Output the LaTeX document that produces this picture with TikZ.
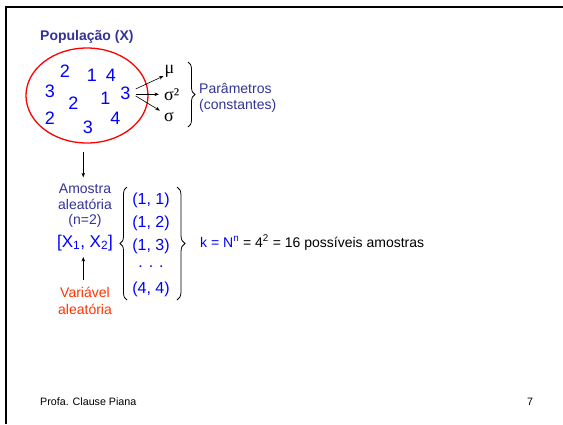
\documentclass[tikz,border=0pt]{standalone}
\usepackage{fontspec}
\setmainfont{Liberation Sans}
\newfontfamily\greekfont{Liberation Serif}
\usetikzlibrary{arrows.meta,decorations.pathreplacing,shapes.geometric}
\definecolor{titleblue}{HTML}{333399}
\definecolor{numblue}{HTML}{0000FF}
\definecolor{varred}{HTML}{FF3300}
\definecolor{popred}{HTML}{FF0000}
\begin{document}
\begin{tikzpicture}[x=1pt,y=-1pt,
  num/.style={font=\fontsize{18}{20}\selectfont, text=numblue, inner sep=0pt, anchor=base},
  lbl/.style={font=\fontsize{14}{16}\selectfont, inner sep=0pt, anchor=base},
  greek/.style={font=\greekfont\fontsize{18}{20}\selectfont, inner sep=0pt, anchor=base},
  pairtxt/.style={font=\fontsize{16}{18}\selectfont, text=numblue, inner sep=0pt, anchor=base},
  arr/.style={-{Stealth[length=4.5pt,width=3.5pt]}, line width=0.6pt},
  bracestyle/.style={decorate, line width=0.8pt},
  foot/.style={font=\fontsize{10.7}{12}\selectfont, inner sep=0pt},
]
\useasboundingbox (0,0) rectangle (563,424);
% frame
\draw[line width=2.2pt, black] (6.2,424) -- (6.2,7.2) -- (563,7.2);

% title
\node[lbl, anchor=base west, text=titleblue, font=\bfseries\fontsize{14}{16}\selectfont] (title) at (40,40) {População (X)};

% population ellipse
\node[draw=popred, line width=1.3pt, ellipse, minimum width=122pt, minimum height=95pt, inner sep=0pt] (pop) at (87,95.5) {};
\node[num] (n1) at (65,77) {2};
\node[num] (n2) at (92,81) {1};
\node[num] (n3) at (111,81) {4};
\node[num] (n4) at (50,97) {3};
\node[num] (n5) at (73.5,109) {2};
\node[num] (n6) at (105.5,104) {1};
\node[num] (n7) at (125.5,99) {3};
\node[num] (n8) at (50,124) {2};
\node[num] (n9) at (88,133) {3};
\node[num] (n10) at (115.5,124) {4};

% parameters
\node[greek] (mu) at (169.5,73) {μ};
\node[greek, anchor=base west] (sigsq) at (164,100.5) {σ²};
\node[greek] (sig) at (169,121) {σ};
\coordinate (s1) at (135.7,89);
\coordinate (s2) at (135.7,94.3);
\coordinate (s3) at (135.7,96);
\draw[arr] (s1) -- ([xshift=-1pt,yshift=1pt]mu.south west);
\draw[arr, shorten >=5pt] (s2) -- (s2 -| sigsq.west);
\draw[arr] (s3) -- ([xshift=-4pt,yshift=1pt]sig.north west);
\draw[bracestyle, decoration={brace, amplitude=7pt}] (188,62) -- (188,127);
\node[lbl, anchor=base west, text=titleblue] (par1) at (199,93) {Parâmetros};
\node[lbl, anchor=base west, text=titleblue] (par2) at (199,109) {(constantes)};

% sample
\node[lbl, text=titleblue] (am1) at (85,193) {Amostra};
\node[lbl, text=titleblue] (am2) at (85,209) {aleatória};
\node[lbl, text=titleblue] (am3) at (85,224.5) {(n=2)};
\node[lbl, text=numblue, font=\fontsize{17}{19}\selectfont] (xx) at (85,247) {[X\textsubscript{1}, X\textsubscript{2}]};
\coordinate (d1) at (83.3,151.7);
\draw[arr] (d1) -- (d1 |- 0,177.3);
\node[lbl, text=varred] (va1) at (85,297) {Variável};
\node[lbl, text=varred] (va2) at (85,314) {aleatória};
\coordinate (u1) at (83.3,280);
\draw[arr] (u1) -- (u1 |- 0,257);

% pairs
\draw[bracestyle, decoration={brace, amplitude=7pt}] (127,300) -- (127,187);
\node[pairtxt] (p1) at (151,204.5) {(1, 1)};
\node[pairtxt] (p2) at (151,227.5) {(1, 2)};
\node[pairtxt] (p3) at (151,250.5) {(1, 3)};
\node[pairtxt] (pd) at (151,267.5) {. . .};
\node[pairtxt] (p4) at (151,293.5) {(4, 4)};
\draw[bracestyle, decoration={brace, amplitude=8pt}] (177,187) -- (177,300);
\node[lbl, anchor=base west] (k) at (200,247) {\textcolor{numblue}{k = N\textsuperscript{n}} = 4\textsuperscript{2} = 16 possíveis amostras};

% footer
\node[foot, anchor=base west] (author) at (40,405.5) {Profa. Clause Piana};
\node[foot, anchor=base] (page) at (530,405) {7};
\end{tikzpicture}
\end{document}
